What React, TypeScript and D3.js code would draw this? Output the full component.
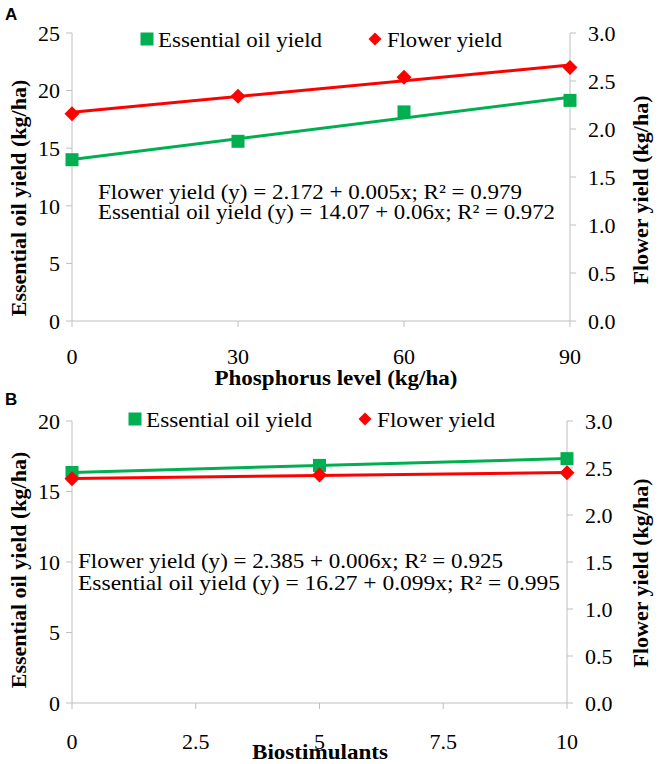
import React from "react";
import * as d3 from "d3";

const phosphorusLevels = [0, 30, 60, 90];
const oilYieldA = [14.0, 15.6, 18.15, 19.15];
const flowerYieldA = [2.16, 2.34, 2.54, 2.64];
const biostimulants = [0, 5, 10];
const oilYieldB = [16.35, 16.85, 17.33];
const flowerYieldB = [2.385, 2.425, 2.45];

const xTicksA = [0, 30, 60, 90];
const xTicksB = [0, 2.5, 5, 7.5, 10];
const leftTicksA = [0, 5, 10, 15, 20, 25];
const leftTicksB = [0, 5, 10, 15, 20];
const rightTicks = [0, 0.5, 1.0, 1.5, 2.0, 2.5, 3.0];

const eqA = [
  "Flower yield (y) = 2.172 + 0.005x; R² = 0.979",
  "Essential oil yield (y) = 14.07 + 0.06x; R² = 0.972",
];
const eqB = [
  "Flower yield (y) = 2.385 + 0.006x; R² = 0.925",
  "Essential oil yield (y) = 16.27 + 0.099x; R² = 0.995",
];

const GREEN = "#00b050";
const RED = "#ff0000";
const AXIS = "#bfbfbf";
const serif: React.CSSProperties = { fontFamily: "Liberation Serif" };
const sans: React.CSSProperties = { fontFamily: "Liberation Sans" };
const FS = 22;

function fit(xs: number[], ys: number[]) {
  const mx = d3.mean(xs)!;
  const my = d3.mean(ys)!;
  let sxy = 0, sxx = 0;
  xs.forEach((x, i) => {
    sxy += (x - mx) * (ys[i] - my);
    sxx += (x - mx) * (x - mx);
  });
  const b = sxy / sxx;
  return { a: my - b * mx, b };
}

type PanelProps = {
  label: string;
  labelY: number;
  xs: number[];
  oil: number[];
  flower: number[];
  xTicks: number[];
  leftTicks: number[];
  leftMax: number;
  xMax: number;
  x0: number;
  x1: number;
  yTop: number;
  yBottom: number;
  eq: string[];
  eqLens: number[];
  eqX: number;
  eqY: number[];
  xTitle: string;
  xTitleX: number;
  xTitleY: number;
  xTitleLen: number;
  leftTitleY: number;
  rightTitleY: number;
  legendY: number;
  legendGreenX: number;
  legendRedX: number;
  legendLens: number[];
  xLabelY: number;
};

function Panel(p: PanelProps) {
  const x = d3.scaleLinear().domain([0, p.xMax]).range([p.x0, p.x1]);
  const yL = d3.scaleLinear().domain([0, p.leftMax]).range([p.yBottom, p.yTop]);
  const yR = d3.scaleLinear().domain([0, 3]).range([p.yBottom, p.yTop]);
  const fo = fit(p.xs, p.oil);
  const ff = fit(p.xs, p.flower);
  const oilLine = d3.line<number>().x((d) => x(d)).y((d) => yL(fo.a + fo.b * d));
  const flLine = d3.line<number>().x((d) => x(d)).y((d) => yR(ff.a + ff.b * d));
  const ends = [0, p.xMax];
  const sq = 13;
  const diamond = (cx: number, cy: number, r: number) =>
    `M${cx},${cy - r}L${cx + r},${cy}L${cx},${cy + r}L${cx - r},${cy}Z`;
  return (
    <g>
      <text x={5} y={p.labelY} style={sans} fontWeight="bold" fontSize={17}>
        {p.label}
      </text>
      <line x1={p.x0} x2={p.x0} y1={p.yTop} y2={p.yBottom} stroke={AXIS} strokeWidth={1} />
      <line x1={p.x1} x2={p.x1} y1={p.yTop} y2={p.yBottom} stroke={AXIS} strokeWidth={1} />
      <line x1={p.x0} x2={p.x1} y1={p.yBottom} y2={p.yBottom} stroke={AXIS} strokeWidth={1} />
      {p.leftTicks.map((t) => (
        <g key={"l" + t}>
          <line x1={p.x0 - 6} x2={p.x0} y1={yL(t)} y2={yL(t)} stroke={AXIS} />
          <text x={p.x0 - 12} y={yL(t)} dy="0.35em" textAnchor="end" style={serif} fontSize={FS}>
            {t}
          </text>
        </g>
      ))}
      {rightTicks.map((t) => (
        <g key={"r" + t}>
          <line x1={p.x1} x2={p.x1 + 6} y1={yR(t)} y2={yR(t)} stroke={AXIS} />
          <text x={p.x1 + 18} y={yR(t)} dy="0.35em" textAnchor="start" style={serif} fontSize={FS}>
            {t.toFixed(1)}
          </text>
        </g>
      ))}
      {p.xTicks.map((t) => (
        <g key={"x" + t}>
          <line x1={x(t)} x2={x(t)} y1={p.yBottom} y2={p.yBottom + 6} stroke={AXIS} />
          <text x={x(t)} y={p.xLabelY} dy="0.35em" textAnchor="middle" style={serif} fontSize={FS}>
            {t}
          </text>
        </g>
      ))}
      <path d={oilLine(ends)!} stroke={GREEN} strokeWidth={3} fill="none" />
      <path d={flLine(ends)!} stroke={RED} strokeWidth={3} fill="none" />
      {p.xs.map((d, i) => (
        <rect key={"s" + i} x={x(d) - sq / 2} y={yL(p.oil[i]) - sq / 2} width={sq} height={sq} fill={GREEN} />
      ))}
      {p.xs.map((d, i) => (
        <path key={"d" + i} d={diamond(x(d), yR(p.flower[i]), 7.5)} fill={RED} />
      ))}
      <rect x={p.legendGreenX - 6.5} y={p.legendY - 6.5} width={13} height={13} fill={GREEN} />
      <text
        x={p.legendGreenX + 11}
        y={p.legendY}
        dy="0.35em"
        style={serif}
        fontSize={FS}
        textLength={p.legendLens[0]}
        lengthAdjust="spacingAndGlyphs"
      >
        Essential oil yield
      </text>
      <path d={diamond(p.legendRedX, p.legendY, 6.5)} fill={RED} />
      <text
        x={p.legendRedX + 12}
        y={p.legendY}
        dy="0.35em"
        style={serif}
        fontSize={FS}
        textLength={p.legendLens[1]}
        lengthAdjust="spacingAndGlyphs"
      >
        Flower yield
      </text>
      {p.eq.map((s, i) => (
        <text
          key={"e" + i}
          x={p.eqX}
          y={p.eqY[i]}
          dy="0.35em"
          style={serif}
          fontSize={FS}
          textLength={p.eqLens[i]}
          lengthAdjust="spacingAndGlyphs"
        >
          {s}
        </text>
      ))}
      <text
        x={p.xTitleX}
        y={p.xTitleY}
        dy="0.35em"
        textAnchor="middle"
        style={serif}
        fontWeight="bold"
        fontSize={FS}
        textLength={p.xTitleLen}
        lengthAdjust="spacingAndGlyphs"
      >
        {p.xTitle}
      </text>
      <text
        transform={`translate(18,${p.leftTitleY}) rotate(-90)`}
        textAnchor="middle"
        dy="0.35em"
        style={serif}
        fontWeight="bold"
        fontSize={FS}
      >
        Essential oil yield (kg/ha)
      </text>
      <text
        transform={`translate(640,${p.rightTitleY}) rotate(-90)`}
        textAnchor="middle"
        dy="0.35em"
        style={serif}
        fontWeight="bold"
        fontSize={FS}
      >
        Flower yield (kg/ha)
      </text>
    </g>
  );
}

export default function App() {
  return (
    <svg
      width={661}
      height={764}
      style={{ position: "absolute", left: 0, top: 0, background: "#fff" }}
    >
      <rect width={661} height={764} fill="#fff" />
      <Panel
        label="A"
        labelY={20}
        xs={phosphorusLevels}
        oil={oilYieldA}
        flower={flowerYieldA}
        xTicks={xTicksA}
        leftTicks={leftTicksA}
        leftMax={25}
        xMax={90}
        x0={72}
        x1={570}
        yTop={33}
        yBottom={321}
        eq={eqA}
        eqLens={[424, 457]}
        eqX={98}
        eqY={[191, 211]}
        xTitle="Phosphorus level (kg/ha)"
        xTitleX={336}
        xTitleY={377}
        xTitleLen={243}
        xLabelY={356}
        leftTitleY={198}
        rightTitleY={190}
        legendY={39}
        legendGreenX={147}
        legendRedX={375}
        legendLens={[164, 115]}
      />
      <Panel
        label="B"
        labelY={405}
        xs={biostimulants}
        oil={oilYieldB}
        flower={flowerYieldB}
        xTicks={xTicksB}
        leftTicks={leftTicksB}
        leftMax={20}
        xMax={10}
        x0={72}
        x1={567}
        yTop={421}
        yBottom={703}
        eq={eqB}
        eqLens={[425, 482]}
        eqX={78}
        eqY={[560, 582]}
        xTitle="Biostimulants"
        xTitleX={320}
        xTitleY={751}
        xTitleLen={136}
        xLabelY={741}
        leftTitleY={570}
        rightTitleY={573}
        legendY={419}
        legendGreenX={135}
        legendRedX={365}
        legendLens={[166, 118]}
      />
    </svg>
  );
}
